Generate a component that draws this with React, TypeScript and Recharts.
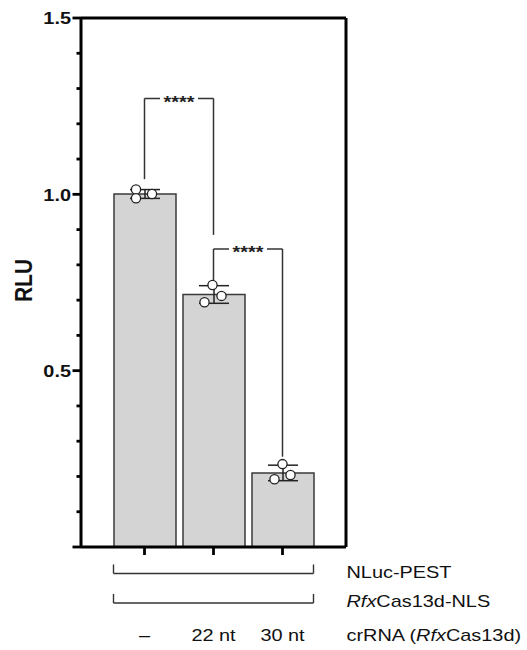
import React from "react";
import {
  ComposedChart,
  Bar,
  Scatter,
  XAxis,
  YAxis,
  ErrorBar,
  ReferenceLine
} from "recharts";

// crRNA groups (x categories)
const groups = ["–", "22 nt", "30 nt"];
// bar heights (mean RLU) and SD error bars
const meanRlu = [1.001, 0.716, 0.21];
const sdRlu = [0.0125, 0.025, 0.022];
// individual replicates
const repA = [1.014, 0.743, 0.235];
const repB = [0.989, 0.694, 0.192];
const repC = [1.001, 0.712, 0.204];

const yTicks = [0, 0.1, 0.2, 0.3, 0.4, 0.5, 0.6, 0.7, 0.8, 0.9, 1.0, 1.1, 1.2, 1.3, 1.4, 1.5];
const yLabelled = [0.5, 1.0, 1.5];

// significance brackets: legs from -> to, heights in RLU
const brackets = [
  { from: "–", to: "22 nt", top: 1.272, fromEnd: 1.043, toEnd: 0.885, mark: "****" },
  { from: "22 nt", to: "30 nt", top: 0.845, fromEnd: 0.754, toEnd: 0.256, mark: "****" }
];

const rows = groups.map((g, i) => ({
  group: g,
  mean: meanRlu[i],
  sd: sdRlu[i],
  a: repA[i],
  b: repB[i],
  c: repC[i]
}));

// horizontal jitter of the replicate dots (px)
const JITTER: Record<string, number[]> = {
  a: [-8.5, -1, 0],
  b: [-8.5, -9, -8],
  c: [7.5, 8, 8]
};

const FONT = "'Liberation Sans', Arial, Helvetica, sans-serif";
const INK = "#111";
const SX = 1.17; // the figure's text is a little wide

// text drawn with a horizontal stretch around its anchor point
const Wide = ({ x, y, children, ...rest }: any) => (
  <text transform={`translate(${x},${y}) scale(${SX},1)`} x={0} y={0} fontFamily={FONT} fill={INK} {...rest}>
    {children}
  </text>
);

const dot = (key: string) => (props: any) => {
  const i = groups.indexOf(props.payload?.group);
  const dx = JITTER[key][i] ?? 0;
  return (
    <circle
      cx={props.cx + dx}
      cy={props.cy}
      r={4.6}
      fill="#fff"
      stroke="#222"
      strokeWidth={1.3}
    />
  );
};

const LeftTick = ({ x, y, payload }: any) => {
  const v = payload.value;
  const major = Math.round(v * 10) % 5 === 0;
  const show = yLabelled.some(t => Math.abs(t - v) < 1e-6);
  return (
    <g>
      <line x1={x - (major ? 8.5 : 4.5)} x2={x} y1={y} y2={y} stroke="#000" strokeWidth={2.8} />
      {show && (
        <Wide x={x - 10} y={y + 6.2} textAnchor="end" fontSize={17} fontWeight="bold">
          {v.toFixed(1)}
        </Wide>
      )}
    </g>
  );
};

const RightTick = ({ x, y, payload }: any) => {
  const v = payload.value;
  if (v === 0 || v === 1.5) return <g />;
  const major = Math.round(v * 10) % 5 === 0;
  return <line x1={x - (major ? 8.5 : 4.5)} x2={x} y1={y} y2={y} stroke="#000" strokeWidth={2.8} />;
};

const GroupTick = ({ x, y, payload, index, visibleTicksCount }: any) => {
  const half = payload?.offset > 0 ? payload.offset : 34.6;
  const last = (visibleTicksCount ?? groups.length) - 1;
  const x1 = index === 0 ? x - 31 : x - half;
  const x2 = index === last ? x + 31 : x + half;
  const rowY = [y + 18.5, y + 48];
  return (
    <g>
      {rowY.map((ry, k) => (
        <g key={k}>
          <line x1={x1} x2={x2} y1={ry} y2={ry} stroke="#333" strokeWidth={1.4} />
          {index === 0 && <line x1={x1} x2={x1} y1={ry} y2={ry - 9} stroke="#333" strokeWidth={1.4} />}
          {index === last && <line x1={x2} x2={x2} y1={ry} y2={ry - 9} stroke="#333" strokeWidth={1.4} />}
        </g>
      ))}
      <Wide x={x} y={y + 86} textAnchor="middle" fontSize={17}>
        {payload.value}
      </Wide>
      {index === last && (
        <g>
          <Wide x={x + 64} y={y + 22.5} fontSize={17}>NLuc-PEST</Wide>
          <Wide x={x + 64} y={y + 52} fontSize={17}>
            <tspan fontStyle="italic">Rfx</tspan>
            <tspan>Cas13d-NLS</tspan>
          </Wide>
          <Wide x={x + 64} y={y + 86} fontSize={17}>
            <tspan>crRNA (</tspan>
            <tspan fontStyle="italic">Rfx</tspan>
            <tspan>Cas13d)</tspan>
          </Wide>
        </g>
      )}
    </g>
  );
};

const StarsLabel = (mark: string) => (props: any) => {
  const vb = props.viewBox || {};
  const cx = vb.x + vb.width / 2;
  const cy = vb.y;
  return (
    <g>
      <rect x={cx - 19} y={cy - 6} width={38} height={12} fill="#fff" />
      <Wide x={cx} y={cy + 9.5} textAnchor="middle" fontSize={17} fontWeight="bold" fill="#222">
        {mark}
      </Wide>
    </g>
  );
};

const RluLabel = (props: any) => {
  const vb = props.viewBox || { x: 21, y: 18, width: 60, height: 529 };
  const tx = vb.x + 10.7;
  const ty = vb.y + vb.height / 2 - 2;
  return (
    <text
      transform={`translate(${tx},${ty}) scale(1.1,1) rotate(-90)`}
      x={0}
      y={0}
      textAnchor="middle"
      fontSize={21}
      fontWeight="bold"
      fontFamily={FONT}
      fill={INK}
    >
      RLU
    </text>
  );
};

export default function App() {
  const line = { stroke: "#333", strokeWidth: 1.5 };
  const frame = { stroke: "#000", strokeWidth: 3 };
  return (
    <div style={{ position: "absolute", left: 0, top: 0, background: "#fff" }}>
      <ComposedChart
        width={527}
        height={650}
        data={rows}
        margin={{ top: 18, right: 180, bottom: 0, left: 21 }}
      >
        <XAxis
          dataKey="group"
          type="category"
          height={103}
          padding={{ left: 29, right: 29 }}
          axisLine={frame}
          tickLine={{ stroke: "#000", strokeWidth: 2.8 }}
          tickSize={8}
          tickMargin={0}
          tick={GroupTick}
          interval={0}
        />
        <YAxis
          type="number"
          domain={[0, 1.5]}
          ticks={yTicks}
          interval={0}
          width={60}
          axisLine={frame}
          tickLine={false}
          tickSize={0}
          tickMargin={0}
          tick={LeftTick}
          label={(p: any) => <RluLabel {...p} />}
        />
        <YAxis
          yAxisId="r"
          orientation="right"
          type="number"
          domain={[0, 1.5]}
          ticks={yTicks}
          interval={0}
          width={1}
          axisLine={frame}
          tickLine={false}
          tickSize={0}
          tickMargin={0}
          tick={RightTick}
        />
        <ReferenceLine y={1.5} {...frame} />
        <Bar
          dataKey="mean"
          fill="#d4d4d4"
          stroke="#3a3a3a"
          strokeWidth={1.5}
          barSize={62}
          isAnimationActive={false}
        >
          <ErrorBar dataKey="sd" width={15} stroke="#222" strokeWidth={1.5} />
        </Bar>
        {brackets.map((b, i) => (
          <ReferenceLine
            key={`l${i}`}
            segment={[{ x: b.from, y: b.fromEnd }, { x: b.from, y: b.top }]}
            {...line}
          />
        ))}
        {brackets.map((b, i) => (
          <ReferenceLine
            key={`r${i}`}
            segment={[{ x: b.to, y: b.top }, { x: b.to, y: b.toEnd }]}
            {...line}
          />
        ))}
        {brackets.map((b, i) => (
          <ReferenceLine
            key={`h${i}`}
            segment={[{ x: b.from, y: b.top }, { x: b.to, y: b.top }]}
            {...line}
            label={StarsLabel(b.mark)}
          />
        ))}
        <Scatter dataKey="a" shape={dot("a")} isAnimationActive={false} />
        <Scatter dataKey="b" shape={dot("b")} isAnimationActive={false} />
        <Scatter dataKey="c" shape={dot("c")} isAnimationActive={false} />
      </ComposedChart>
    </div>
  );
}
